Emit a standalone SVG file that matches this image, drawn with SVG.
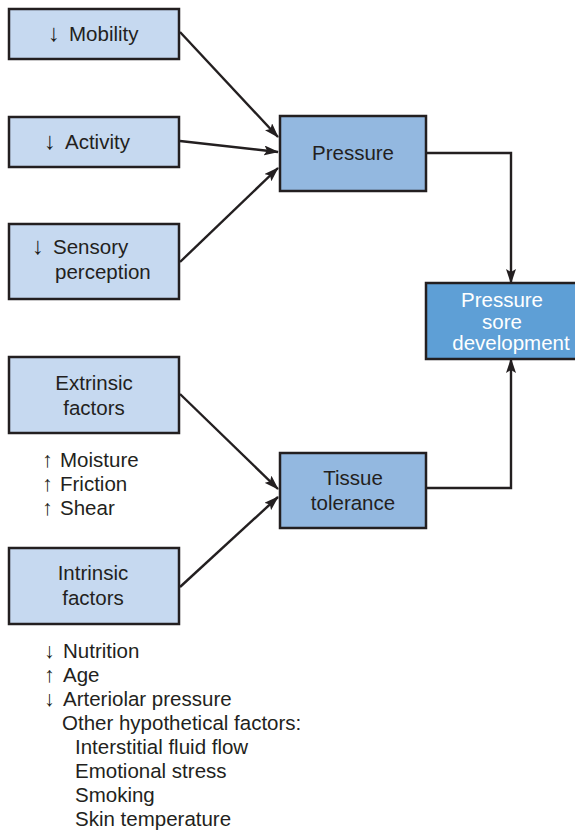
<svg xmlns="http://www.w3.org/2000/svg" width="575" height="832" viewBox="0 0 575 832">
<style>
text{font-family:"Liberation Sans",Arial,sans-serif;font-size:20.5px;fill:#231f20}
.a{font-size:24px}
.al{font-size:21.5px}
.c{text-anchor:middle}
.w{fill:#ffffff}
.b1{fill:#c6d9f0;stroke:#231f20;stroke-width:2.5}
.b2{fill:#93b8e0;stroke:#231f20;stroke-width:2.5}
.b3{fill:#5e9fd6;stroke:#231f20;stroke-width:2.5}
.ln{fill:none;stroke:#231f20;stroke-width:2.4}
</style>
<defs>
<marker id="ah" markerWidth="15" markerHeight="10" refX="14" refY="5" orient="auto" markerUnits="userSpaceOnUse">
<path d="M0,0 L15,5 L0,10 L3,5 Z" fill="#231f20"/>
</marker>
</defs>
<g id="connectors">
<line class="ln" x1="180" y1="32" x2="278" y2="137" marker-end="url(#ah)"/>
<line class="ln" x1="180" y1="141" x2="278" y2="152" marker-end="url(#ah)"/>
<line class="ln" x1="180" y1="262" x2="278" y2="168" marker-end="url(#ah)"/>
<line class="ln" x1="180" y1="394" x2="278" y2="489" marker-end="url(#ah)"/>
<line class="ln" x1="180" y1="587" x2="278" y2="497" marker-end="url(#ah)"/>
<polyline class="ln" points="426,153 511,153 511,283" marker-end="url(#ah)"/>
<polyline class="ln" points="426,488 511,488 511,359" marker-end="url(#ah)"/>
</g>
<g id="mobility">
<rect class="b1" x="9" y="9" width="170" height="50"/>
<text x="48" y="41"><tspan class="a">↓</tspan><tspan x="69">Mobility</tspan></text>
</g>
<g id="activity">
<rect class="b1" x="9" y="117" width="170" height="50"/>
<text x="44" y="149"><tspan class="a">↓</tspan><tspan x="65">Activity</tspan></text>
</g>
<g id="sensory">
<rect class="b1" x="9" y="224" width="170" height="75"/>
<text x="32" y="254"><tspan class="a">↓</tspan><tspan x="53">Sensory</tspan></text>
<text x="55" y="279">perception</text>
</g>
<g id="pressure">
<rect class="b2" x="280" y="116" width="146" height="75"/>
<text class="c" x="353" y="160">Pressure</text>
</g>
<g id="psd">
<rect class="b3" x="426" y="283" width="152" height="76"/>
<text class="c w" x="502" y="307">Pressure</text>
<text class="c w" x="502" y="329">sore</text>
<text class="c w" x="511" y="350">development</text>
</g>
<g id="extrinsic">
<rect class="b1" x="9" y="357" width="170" height="76"/>
<text class="c" x="94" y="390">Extrinsic</text>
<text class="c" x="94" y="415">factors</text>
</g>
<g id="tissue">
<rect class="b2" x="280" y="453" width="146" height="75"/>
<text class="c" x="353" y="485">Tissue</text>
<text class="c" x="353" y="510">tolerance</text>
</g>
<g id="intrinsic">
<rect class="b1" x="9" y="548" width="170" height="76"/>
<text class="c" x="93" y="580">Intrinsic</text>
<text class="c" x="93" y="605">factors</text>
</g>
<g id="extrinsic-list">
<text x="42" y="467"><tspan class="al">↑</tspan><tspan x="60">Moisture</tspan></text>
<text x="42" y="491"><tspan class="al">↑</tspan><tspan x="60">Friction</tspan></text>
<text x="42" y="515"><tspan class="al">↑</tspan><tspan x="60">Shear</tspan></text>
</g>
<g id="intrinsic-list">
<text x="44" y="658"><tspan class="al">↓</tspan><tspan x="63">Nutrition</tspan></text>
<text x="44" y="682"><tspan class="al">↑</tspan><tspan x="63">Age</tspan></text>
<text x="44" y="706"><tspan class="al">↓</tspan><tspan x="63">Arteriolar pressure</tspan></text>
<text x="62" y="730">Other hypothetical factors:</text>
<text x="75" y="754">Interstitial fluid flow</text>
<text x="75" y="778">Emotional stress</text>
<text x="75" y="802">Smoking</text>
<text x="75" y="826">Skin temperature</text>
</g>
</svg>
